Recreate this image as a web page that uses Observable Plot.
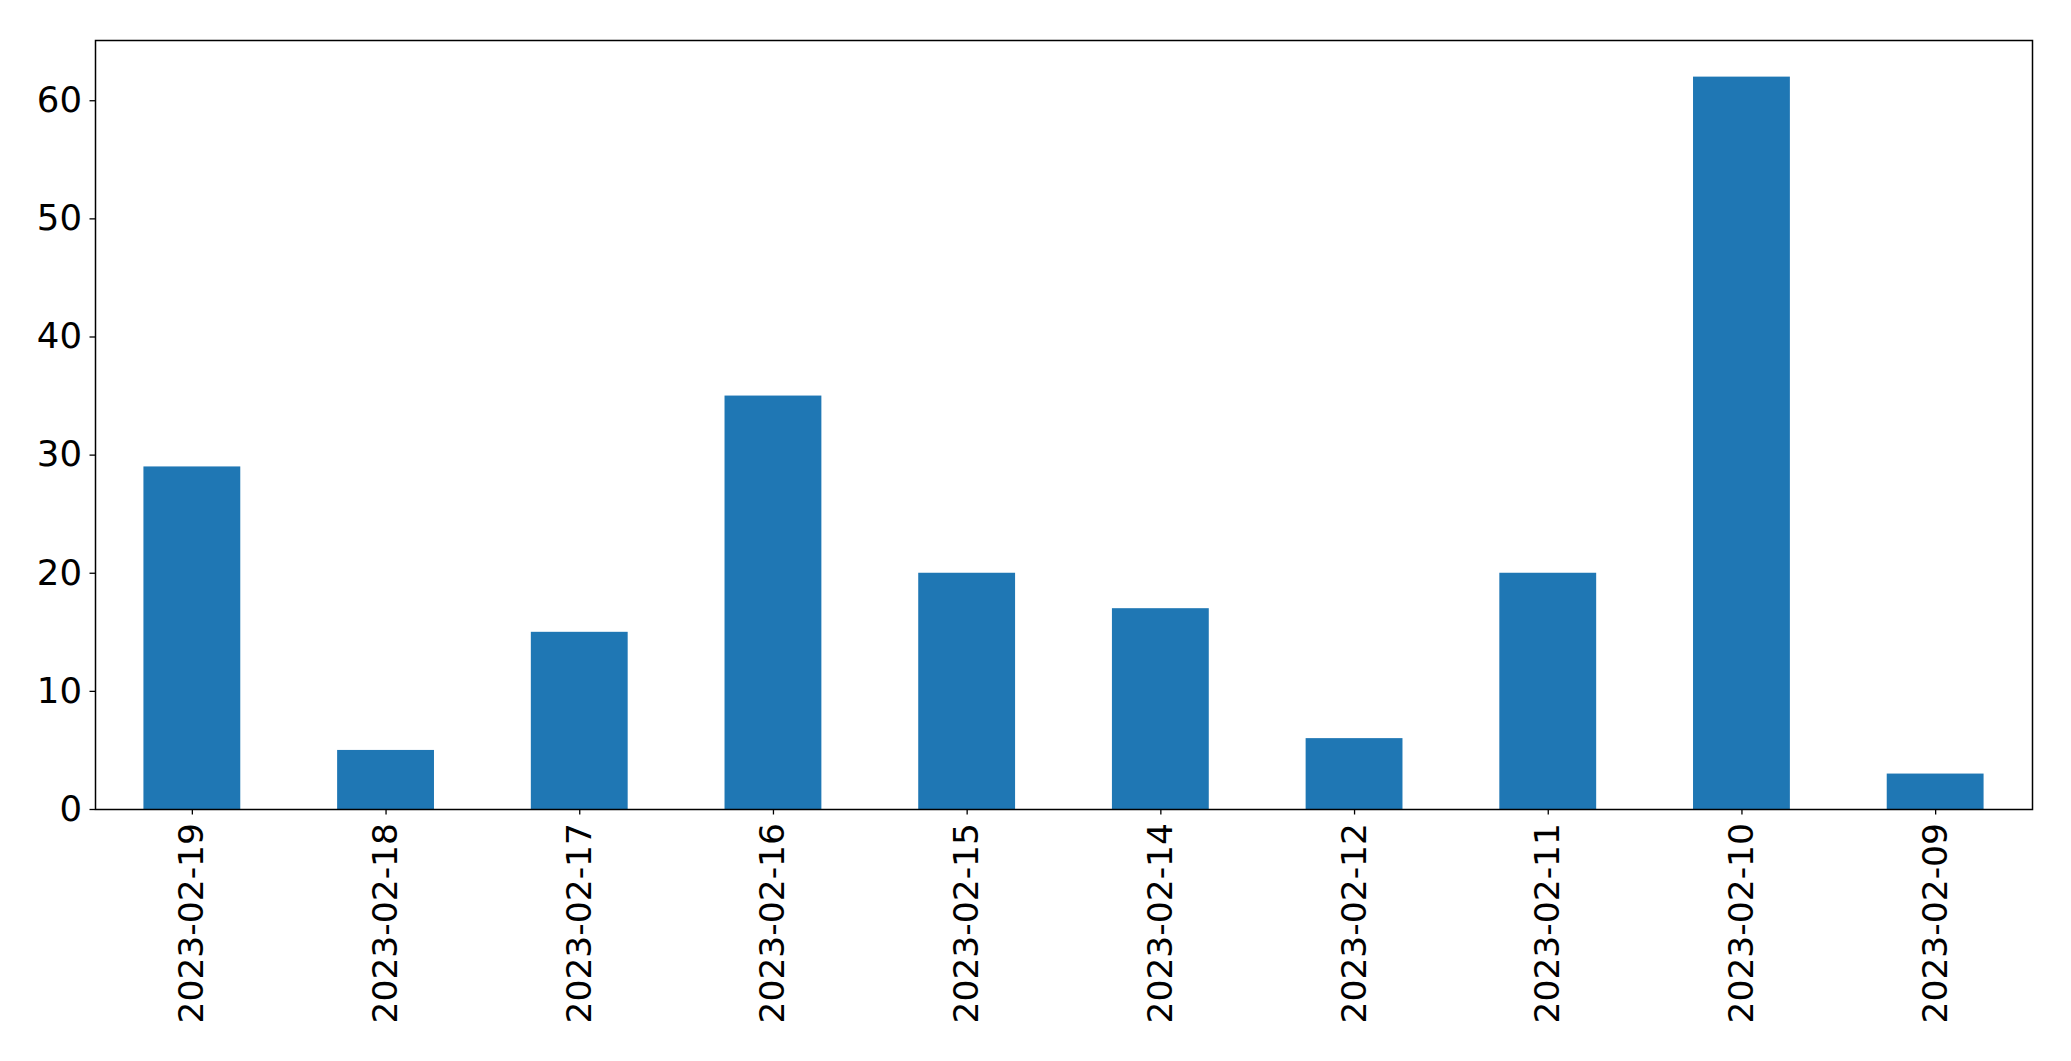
<!DOCTYPE html>
<html>
<head>
<meta charset="utf-8">
<script src="https://cdn.jsdelivr.net/npm/d3@7"></script>
<script src="https://cdn.jsdelivr.net/npm/@observablehq/plot@0.6"></script>
<style>
html, body { margin: 0; padding: 0; background: #fff; }
#chart svg { display: block; }
</style>
</head>
<body>
<div id="chart"></div>
<script>
const dates = ["2023-02-19","2023-02-18","2023-02-17","2023-02-16","2023-02-15","2023-02-14","2023-02-12","2023-02-11","2023-02-10","2023-02-09"];
const counts = [29, 5, 15, 35, 20, 17, 6, 20, 62, 3];
const yTicks = [0, 10, 20, 30, 40, 50, 60];

const data = dates.map((d, i) => ({date: d, count: counts[i]}));

const chart = Plot.plot({
  width: 2071,
  height: 1061,
  marginLeft: 95,
  marginRight: 39,
  marginTop: 40,
  marginBottom: 252,
  style: {fontFamily: "DejaVu Sans", background: "#fff", color: "#000"},
  x: {domain: dates, paddingInner: 0.5, paddingOuter: 0.25, align: 0.5, round: false},
  y: {domain: [0, 65.1]},
  marks: [
    Plot.barY(data, {x: "date", y: "count", fill: "#1f77b4"}),
    Plot.frame({stroke: "#000", strokeWidth: 1.5}),
    Plot.axisY({ticks: yTicks, tickSize: 5.5, tickPadding: 8, fontSize: 35.5, label: null, stroke: "#000", strokeWidth: 1.3}),
    Plot.axisX({tickRotate: -90, tickSize: 5.5, tickPadding: 8, fontSize: 34.5, label: null, stroke: "#000", strokeWidth: 1.3})
  ]
});
document.getElementById("chart").appendChild(chart);
</script>
</body>
</html>
